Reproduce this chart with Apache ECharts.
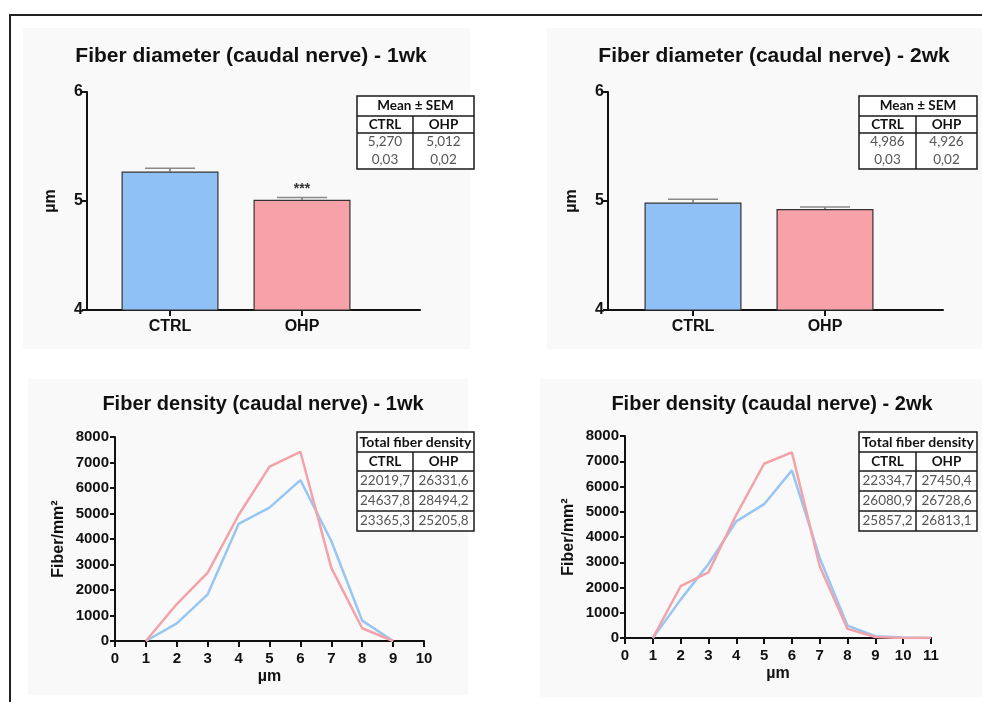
<!DOCTYPE html>
<html><head><meta charset="utf-8">
<script src="https://cdn.jsdelivr.net/npm/echarts@6/dist/echarts.min.js"></script>
<style>html,body{margin:0;padding:0;background:#fff}#c{width:982px;height:702px}</style>
</head><body><div id="c"></div>
<script>
// ---------- data ----------
const groups = ['CTRL', 'OHP'];
const diaMean1wk = [5.270, 5.012];
const diaSem1wk = [0.03, 0.02];
const diaSig1wk = ['', '***'];
const diaMean2wk = [4.986, 4.926];
const diaSem2wk = [0.03, 0.02];
const diaSig2wk = ['', ''];

const bins1wk = [1, 2, 3, 4, 5, 6, 7, 8, 9];
const densCtrl1wk = [0, 690, 1830, 4590, 5230, 6310, 3920, 800, 0];
const densOhp1wk = [0, 1450, 2680, 4940, 6840, 7420, 2870, 500, 0];
const bins2wk = [1, 2, 3, 4, 5, 6, 7, 8, 9, 10, 11];
const densCtrl2wk = [0, 1520, 2930, 4620, 5300, 6640, 3170, 490, 70, 20, 0];
const densOhp2wk = [0, 2050, 2600, 4880, 6900, 7350, 2840, 360, 40, 0, 0];

const titles = ['Fiber diameter (caudal nerve) - 1wk', 'Fiber diameter (caudal nerve) - 2wk',
                'Fiber density (caudal nerve) - 1wk', 'Fiber density (caudal nerve) - 2wk'];
const semHeader = 'Mean ± SEM';
const densHeader = 'Total fiber density';
const densTable1wk = [['22019,7', '26331,6'], ['24637,8', '28494,2'], ['23365,3', '25205,8']];
const densTable2wk = [['22334,7', '27450,4'], ['26080,9', '26728,6'], ['25857,2', '26813,1']];

// ---------- styling ----------
const AF = 'Liberation Sans, Arial, sans-serif';
const TF = 'Lato, sans-serif';
const BLUE = '#8fc0f6', PINK = '#f7a1a8';
const LBLUE = '#98c6f2', LPINK = '#f4a2aa';
const AX = '#111';

const chart = echarts.init(document.getElementById('c'), null, {renderer: 'canvas'});

function fmt(v, d) { return v.toFixed(d).replace('.', ','); }

function errRender(sem, sig) {
  return function (params, api) {
    const i = params.dataIndex;
    const x = api.value(0), y = api.value(1);
    const base = api.coord([x, y]);
    const top = api.coord([x, y + sem[i]]);
    const half = 25;
    const ch = [
      {type: 'line', shape: {x1: base[0], y1: base[1], x2: top[0], y2: top[1]}, style: {stroke: '#666', lineWidth: 1.5}},
      {type: 'line', shape: {x1: top[0] - half, y1: top[1], x2: top[0] + half, y2: top[1]}, style: {stroke: '#8a8a8a', lineWidth: 1.5}}
    ];
    if (sig[i]) ch.push({type: 'text', x: top[0], y: top[1] - 1,
      style: {text: sig[i], textAlign: 'center', textVerticalAlign: 'bottom', font: 'bold 14px ' + AF, fill: '#333'}});
    return {type: 'group', children: ch};
  };
}

function makeTable(L, T, W, D, headH, colH, rowH, header, rows, rowLines, headSize) {
  const H = headH + colH + rowH * rows.length;
  const st = {stroke: '#1a1a1a', lineWidth: 1.5};
  const el = [];
  const ln = (x1, y1, x2, y2) => ({type: 'line', z: 101, shape: {x1, y1, x2, y2}, style: st});
  el.push({type: 'rect', z: 100, shape: {x: L, y: T, width: W, height: H}, style: {fill: '#fff', stroke: '#1a1a1a', lineWidth: 1.5}});
  el.push(ln(L, T + headH, L + W, T + headH));
  el.push(ln(L, T + headH + colH, L + W, T + headH + colH));
  el.push(ln(D, T + headH, D, T + H));
  if (rowLines) for (let r = 1; r < rows.length; r++) el.push(ln(L, T + headH + colH + rowH * r, L + W, T + headH + colH + rowH * r));
  const tx = (text, x, y, bold, size, color) => ({type: 'text', z: 102, x, y,
    style: {text, textAlign: 'center', textVerticalAlign: 'middle', font: (bold ? 'bold ' : '') + size + 'px ' + TF, fill: color}});
  el.push(tx(header, L + W / 2, T + headH / 2, true, headSize, '#111'));
  const c1 = (L + D) / 2, c2 = (D + L + W) / 2;
  el.push(tx(groups[0], c1, T + headH + colH / 2, true, 13.5, '#111'));
  el.push(tx(groups[1], c2, T + headH + colH / 2, true, 13.5, '#111'));
  rows.forEach((r, i) => {
    const y = T + headH + colH + rowH * (i + 0.5);
    el.push(tx(r[0], c1, y, false, 13.5, '#555'));
    el.push(tx(r[1], c2, y, false, 13.5, '#555'));
  });
  return el;
}

const diaRows1 = [[fmt(diaMean1wk[0], 3), fmt(diaMean1wk[1], 3)], [fmt(diaSem1wk[0], 2), fmt(diaSem1wk[1], 2)]];
const diaRows2 = [[fmt(diaMean2wk[0], 3), fmt(diaMean2wk[1], 3)], [fmt(diaSem2wk[0], 2), fmt(diaSem2wk[1], 2)]];

const graphics = [
  {type: 'rect', z: -10, shape: {x: 23, y: 28, width: 447, height: 321}, style: {fill: '#f9f9f9'}},
  {type: 'rect', z: -10, shape: {x: 547, y: 28, width: 435, height: 321}, style: {fill: '#f9f9f9'}},
  {type: 'rect', z: -10, shape: {x: 28, y: 379, width: 440, height: 316}, style: {fill: '#f9f9f9'}},
  {type: 'rect', z: -10, shape: {x: 540, y: 379, width: 442, height: 318}, style: {fill: '#f9f9f9'}},
  {type: 'line', z: 10, shape: {x1: 9, y1: 15, x2: 982, y2: 15}, style: {stroke: '#222', lineWidth: 2}},
  {type: 'line', z: 10, shape: {x1: 10, y1: 14, x2: 10, y2: 702}, style: {stroke: '#222', lineWidth: 2}},
  ...makeTable(357, 96, 117, 413, 20, 17, 18, semHeader, diaRows1, false, 13.5),
  ...makeTable(859, 96, 118, 916, 20, 17, 18, semHeader, diaRows2, false, 13.5),
  ...makeTable(357, 432, 117, 413, 20, 19, 20, densHeader, densTable1wk, true, 14),
  ...makeTable(859, 432, 118, 916, 20, 19, 20, densHeader, densTable2wk, true, 14)
];

function barX(idx, minV, maxV) {
  return {gridIndex: idx, type: 'value', min: minV, max: maxV, splitLine: {show: false},
    axisLine: {onZero: false, lineStyle: {color: AX, width: 2}},
    axisTick: {customValues: [0, 1], length: 6, lineStyle: {color: AX, width: 2}},
    axisLabel: {customValues: [0, 1], formatter: v => groups[Math.round(v)], fontFamily: AF, fontWeight: 'bold', fontSize: 16, color: AX, margin: 9}};
}
function barY(idx) {
  return {gridIndex: idx, type: 'value', min: 4, max: 6, interval: 1, splitLine: {show: false},
    name: 'µm', nameLocation: 'middle', nameGap: 28,
    nameTextStyle: {fontFamily: AF, fontWeight: 'bold', fontSize: 16, color: AX},
    axisLine: {show: true, onZero: false, lineStyle: {color: AX, width: 2}},
    axisTick: {show: true, length: 5, lineStyle: {color: AX, width: 2}},
    axisLabel: {fontFamily: AF, fontWeight: 'bold', fontSize: 16, color: AX, margin: 4}};
}
function denX(idx, maxV) {
  return {gridIndex: idx, type: 'value', min: 0, max: maxV, interval: 1, splitLine: {show: false},
    name: 'µm', nameLocation: 'middle', nameGap: 28,
    nameTextStyle: {fontFamily: AF, fontWeight: 'bold', fontSize: 16, color: AX},
    axisLine: {onZero: false, lineStyle: {color: AX, width: 2}},
    axisTick: {length: 6, lineStyle: {color: AX, width: 2}},
    axisLabel: {fontFamily: AF, fontWeight: 'bold', fontSize: 15, color: AX, margin: 10}};
}
function denY(idx) {
  return {gridIndex: idx, type: 'value', min: 0, max: 8000, interval: 1000, splitLine: {show: false},
    name: 'Fiber/mm²', nameLocation: 'middle', nameGap: 48,
    nameTextStyle: {fontFamily: AF, fontWeight: 'bold', fontSize: 16, color: AX},
    axisLine: {show: true, onZero: false, lineStyle: {color: AX, width: 2}},
    axisTick: {show: true, length: 5, lineStyle: {color: AX, width: 2}},
    axisLabel: {formatter: v => String(v), fontFamily: AF, fontWeight: 'bold', fontSize: 15, color: AX, margin: 6}};
}

const barSeries = (xi, mean, colorArr) => ({
  type: 'bar', xAxisIndex: xi, yAxisIndex: xi, barWidth: 97,
  data: groups.map((g, i) => ({value: [i, mean[i]], itemStyle: {color: colorArr[i], borderColor: '#333', borderWidth: 1.2}})),
  z: 2
});
const errSeries = (xi, mean, sem, sig) => ({
  type: 'custom', xAxisIndex: xi, yAxisIndex: xi, z: 3,
  renderItem: errRender(sem, sig),
  data: groups.map((g, i) => [i, mean[i]])
});
const lineSeries = (xi, bins, vals, color, name) => ({
  type: 'line', name, xAxisIndex: xi, yAxisIndex: xi, showSymbol: false, symbol: 'none',
  lineStyle: {color, width: 2.5}, itemStyle: {color},
  data: bins.map((b, i) => [b, vals[i]]), z: 3
});

const titleOpt = (t, cx, top, size) => ({text: t, left: cx, top, textAlign: 'center', padding: 0,
  textStyle: {fontFamily: AF, fontWeight: 'bold', fontSize: size, color: '#111'}});

const option = {
  backgroundColor: '#fff',
  animation: false,
  title: [titleOpt(titles[0], 251, 46, 21), titleOpt(titles[1], 774, 46, 21),
          titleOpt(titles[2], 263, 394, 20), titleOpt(titles[3], 772, 394, 20)],
  grid: [
    {left: 87, top: 92, width: 333, height: 218, containLabel: false, outerBoundsMode: 'none'},
    {left: 608, top: 92, width: 335, height: 218, containLabel: false, outerBoundsMode: 'none'},
    {left: 115, top: 437, width: 309, height: 204, containLabel: false, outerBoundsMode: 'none'},
    {left: 625, top: 436, width: 306, height: 202, containLabel: false, outerBoundsMode: 'none'}
  ],
  xAxis: [barX(0, -0.629, 1.894), barX(1, -0.644, 1.894), denX(2, 10), denX(3, 11)],
  yAxis: [barY(0), barY(1), denY(2), denY(3)],
  series: [
    barSeries(0, diaMean1wk, [BLUE, PINK]),
    errSeries(0, diaMean1wk, diaSem1wk, diaSig1wk),
    barSeries(1, diaMean2wk, [BLUE, PINK]),
    errSeries(1, diaMean2wk, diaSem2wk, diaSig2wk),
    lineSeries(2, bins1wk, densCtrl1wk, LBLUE, 'CTRL'),
    lineSeries(2, bins1wk, densOhp1wk, LPINK, 'OHP'),
    lineSeries(3, bins2wk, densCtrl2wk, LBLUE, 'CTRL'),
    lineSeries(3, bins2wk, densOhp2wk, LPINK, 'OHP')
  ],
  graphic: {elements: graphics}
};
chart.setOption(option);
</script>
</body></html>
